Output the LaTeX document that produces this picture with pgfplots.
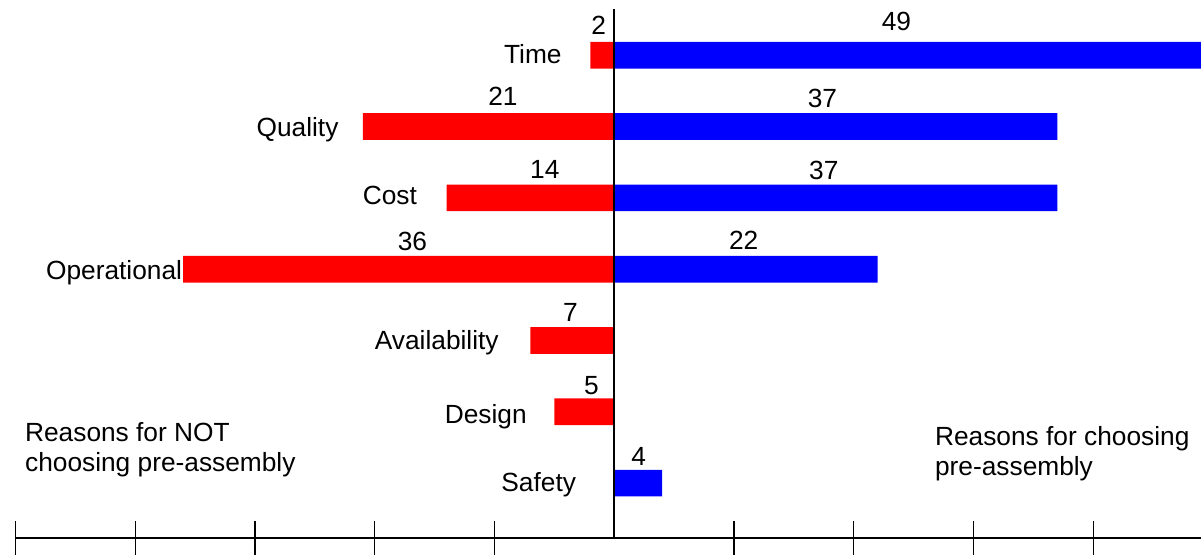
\documentclass[border=0pt]{standalone}
\usepackage{pgfplots}
\usepackage{pgfplotstable}
\pgfplotsset{compat=1.18}
\usepackage{fontspec}
\setmainfont{Liberation Sans}

\pgfplotstableread{
y x
6 -2
5 -21
4 -14
3 -36
2 -7
1 -5
}\redtab

\pgfplotstableread{
y x
6 49
5 37
4 37
3 22
0 4
}\bluetab

\begin{document}
\fontsize{13.15pt}{15.8pt}\selectfont
\begin{tikzpicture}[lab/.style={inner sep=0pt, font=\fontsize{13.15pt}{15.8pt}\selectfont}]
\path[use as bounding box] (-7.75pt,-9pt) rectangle (592.75pt,269pt);
\begin{axis}[
  at={(0,0)}, anchor=south west,
  width=592.75pt, height=264.5pt, scale only axis,
  xmin=-50, xmax=49, ymin=-0.77, ymax=6.649,
  axis x line*=bottom, axis y line*=middle,
  x axis line style={line width=0.75pt, black},
  y axis line style={line width=1pt, black},
  xtick={-50,-40,-30,-20,-10,10,20,30,40},
  xticklabels={},
  ytick=\empty,
  tick align=center,
  major tick length=17pt,
  major tick style={line width=0.6pt, black},
  axis on top,
  clip=false,
]
\addplot[xbar, bar width=0.374, bar shift=0pt, fill=red, draw=none] table[x=x,y=y] {\redtab};
\addplot[xbar, bar width=0.374, bar shift=0pt, fill=blue, draw=none] table[x=x,y=y] {\bluetab};

% category labels
\node[lab, anchor=base east] at (axis cs:-4.36,5.888) {Time};
\node[lab, anchor=base east] at (axis cs:-23.0,4.858) {Quality};
\node[lab, anchor=base east] at (axis cs:-16.45,3.914) {Cost};
\node[lab, anchor=base east] at (axis cs:-36.06,2.849) {Operational};
\node[lab, anchor=base east] at (axis cs:-9.62,1.867) {Availability};
\node[lab, anchor=base east] at (axis cs:-7.28,0.839) {Design};
\node[lab, anchor=base east] at (axis cs:-3.16,-0.121) {Safety};

% value labels
\node[lab, anchor=base] at (axis cs:-1.29,6.285) {2};
\node[lab, anchor=base] at (axis cs:23.57,6.345) {49};
\node[lab, anchor=base] at (axis cs:-9.29,5.289) {21};
\node[lab, anchor=base] at (axis cs:17.39,5.261) {37};
\node[lab, anchor=base] at (axis cs:-5.80,4.269) {14};
\node[lab, anchor=base] at (axis cs:17.50,4.251) {37};
\node[lab, anchor=base] at (axis cs:-16.85,3.259) {36};
\node[lab, anchor=base] at (axis cs:10.81,3.269) {22};
\node[lab, anchor=base] at (axis cs:-3.66,2.264) {7};
\node[lab, anchor=base] at (axis cs:-1.90,1.236) {5};
\node[lab, anchor=base] at (axis cs:2.05,0.244) {4};

% side captions
\node[lab, anchor=base west] at (axis cs:-49.23,0.581) {Reasons for NOT};
\node[lab, anchor=base west] at (axis cs:-49.23,0.160) {choosing pre-assembly};
\node[lab, anchor=base west] at (axis cs:26.76,0.534) {Reasons for choosing};
\node[lab, anchor=base west] at (axis cs:26.76,0.113) {pre-assembly};
\end{axis}
\end{tikzpicture}
\end{document}
